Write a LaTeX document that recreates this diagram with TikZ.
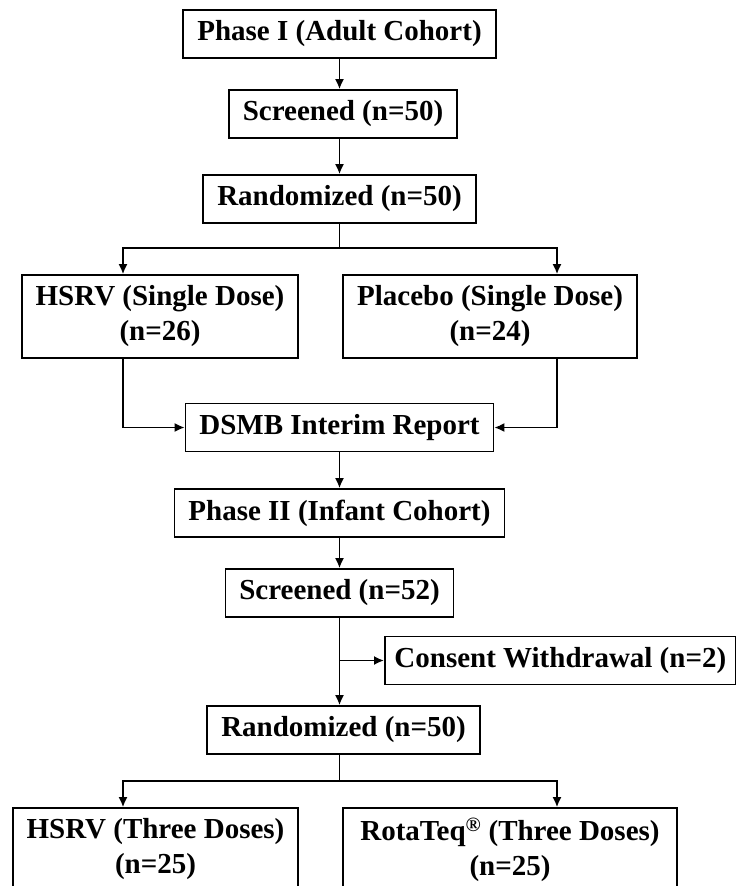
\documentclass[tikz,border=0pt]{standalone}
\usepackage{fontspec}
\setmainfont{Liberation Serif}
\usetikzlibrary{arrows.meta}

\begin{document}
\begin{tikzpicture}[x=1pt, y=-1pt, line width=1.7pt, >={Latex[length=10pt,width=9pt]},
	main/.style = {draw, align=center, inner xsep=6pt, minimum height=48pt,
		font=\fontsize{29}{35}\selectfont\bfseries}]
		\useasboundingbox (0,0) rectangle (736,886);
		%Phase I part of the chart
		\node[main, minimum width=313pt] (1) at (339.5,34) {Phase I (Adult Cohort)};
		\node[main, minimum width=228pt] (2) [node distance=80pt, below of=1, xshift=3.5pt] {Screened (n=50)};
		\node[main, minimum width=273pt] (3) [node distance=165pt, below of=1] {Randomized (n=50)};
		\node[main, minimum width=276pt, minimum height=83pt] (4) at (160,316.5) {HSRV (Single Dose)\\(n=26)};
		\node[main, minimum width=294pt, minimum height=83pt] (5) at (490,316.5) {Placebo (Single Dose)\\(n=24)};
		\node[main, minimum width=308pt] (6) [node distance=228.5pt, below of=3] {DSMB Interim Report};
		%Phase II part of the chart
		\node[main, minimum width=330pt] (7) [node distance=85.5pt, below of=6] {Phase II (Infant Cohort)};
		\node[main, minimum width=228pt] (8) [node distance=80pt, below of=7] {Screened (n=52)};
		\node[main, minimum width=351pt, anchor=west] (9) at (384,660.5) {Consent Withdrawal (n=2)};
		\node[main, minimum width=273pt] (10) [node distance=137pt, below of=8, xshift=4pt] {Randomized (n=50)};
		\node[main, minimum width=285pt, minimum height=83pt] (11) at (155.5,849.5) {HSRV (Three Doses)\\(n=25)};
		\node[main, minimum width=334pt, minimum height=83pt] (12) at (510,849.5) {RotaTeq\textsuperscript{\textregistered} (Three Doses)\\(n=25)};
		
		%Connectors of phase I
		\draw[->] (1) -- (1 |- 2.north); 	%Phase I -> screened
		\draw[->] (3 |- 2.south) -- (3); 	%Screened -> randomized
		\draw[->] (3) -- ++(0,49) -| ([xshift=-37pt]4.north); 	%Randomized -> HSRV
		\draw[->] (3) -- ++(0,49) -| ([xshift=67pt]5.north); 	%Randomized -> placebo
		\draw[->] ([xshift=-37pt]4.south) |- (6); 	%HSRV -> DSMB
		\draw[->] ([xshift=67pt]5.south) |- (6); 	%Placebo -> DSMB
		
		%Connectors of phase II
		\draw[->] (6) -- (7); 	%DSMB -> phase II
		\draw[->] (7) -- (8); 	%Phase II -> screened
		\draw[->] (8) -- (8 |- 10.north); 	%Screened -> randomized
		\draw[->] (8 |- 9) -- (9); 	%Withdrawal
		\draw[->] (8 |- 10.south) -- ++(0,26) -| ([xshift=-32.5pt]11.north); 	%Randomized -> HSRV
		\draw[->] (8 |- 10.south) -- ++(0,26) -| ([xshift=47pt]12.north); 	%Randomized -> RotaTeq
	\end{tikzpicture}
\end{document}
